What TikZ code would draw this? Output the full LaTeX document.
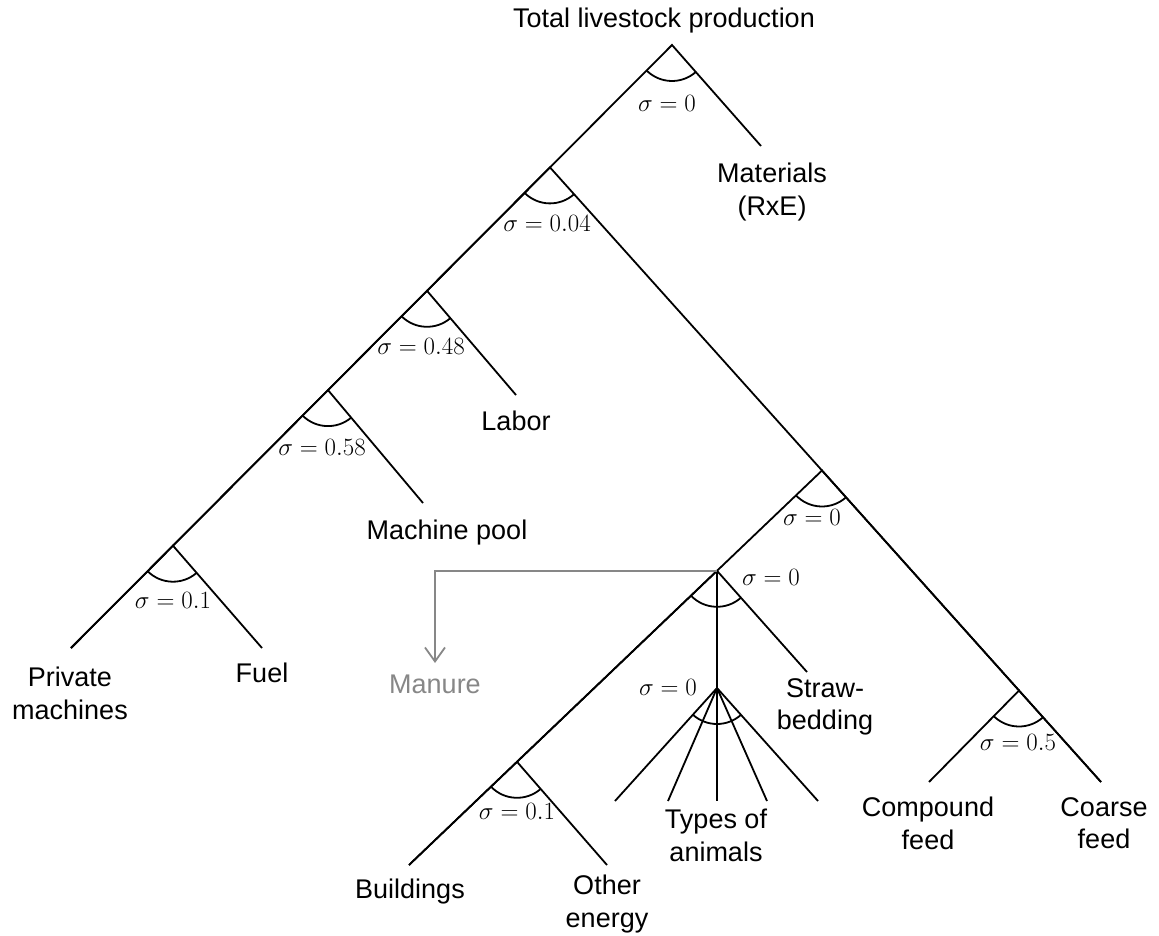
\documentclass[tikz,border=0pt]{standalone}
\usepackage[no-math]{fontspec}
\setmainfont{Liberation Sans}
\usetikzlibrary{calc,arrows.meta}
\definecolor{manuregray}{RGB}{135,135,135}
\newcommand\sigarc[3]{\draw[branch] let \p1=($(#2)-(#1)$), \p2=($(#3)-(#1)$), \n1={atan2(\y1,\x1)}, \n2={atan2(\y2,\x2)} in ($(#1)+(\n1:36pt)$) arc[start angle=\n1, end angle=\n2, radius=36pt];}
\begin{document}
\begin{tikzpicture}[x=1pt,y=-1pt,
  branch/.style={line width=1.8pt, black},
  lbl/.style={font=\fontsize{27}{32.5}\selectfont, align=center, inner sep=0pt, anchor=north},
  sig/.style={font=\fontsize{23.5}{28}\selectfont, inner sep=0pt},
  manureline/.style={line width=1.8pt, manuregray, -{Straight Barb[length=14pt,width=20pt,line width=1.8pt]}}]
\useasboundingbox (0,0) rectangle (1159,936);
\fill[white] (0,0) rectangle (1159,936);
% nodes (junctions) and free ends
\coordinate (A1) at (672,45);
\coordinate (A2) at (550,167.4);
\coordinate (A3) at (427,290.8);
\coordinate (A4) at (328,390.1);
\coordinate (A5) at (173,545.7);
\coordinate (ePM) at (71,648);
\coordinate (eFuel) at (262,648);
\coordinate (eMat) at (761,146);
\coordinate (eLab) at (516,395);
\coordinate (eMach) at (423,503);
\coordinate (B1) at (822,470.5);
\coordinate (B2) at (1019,690.5);
\coordinate (eCF) at (1101,782);
\coordinate (eCP) at (929,782);
\coordinate (J) at (717,570.8);
\coordinate (C1) at (517,761.8);
\coordinate (eBld) at (409,865);
\coordinate (eOE) at (607,865);
\coordinate (eStraw) at (807,672);
\coordinate (F) at (717,688);
\coordinate (f1) at (615,801);
\coordinate (f2) at (668,801);
\coordinate (f3) at (717,801);
\coordinate (f4) at (767,801);
\coordinate (f5) at (818,801);
\coordinate (mCorner) at (435,570.8);
\coordinate (mTip) at (435,663);
% branches
\draw[branch] (ePM) -- (A5) -- (A4) -- (A3) -- (A2) -- (A1) -- (eMat);
\draw[branch] (A3) -- (A2) -- (B1) -- (B2) -- (eCF);
\draw[branch] (A4) -- (A3) -- (eLab);
\draw[branch] (A5) -- (A4) -- (eMach);
\draw[branch] (ePM) -- (A5) -- (eFuel);
\draw[branch] (eBld) -- (C1) -- (J) -- (B1) -- (B2);
\draw[branch] (eBld) -- (C1) -- (eOE);
\draw[branch] (eCP) -- (B2) -- (eCF);
\draw[branch] (C1) -- (J) -- (eStraw);
\draw[branch] (J) -- (F) -- (f3);
\foreach \f in {f1,f2,f4,f5} \draw[branch] (F) -- (\f);
% arcs
\sigarc{A1}{A2}{eMat}
\sigarc{A2}{A3}{B1}
\sigarc{A3}{A4}{eLab}
\sigarc{A4}{A5}{eMach}
\sigarc{A5}{ePM}{eFuel}
\sigarc{B1}{J}{B2}
\sigarc{B2}{eCP}{eCF}
\sigarc{J}{C1}{eStraw}
\sigarc{C1}{eBld}{eOE}
\sigarc{F}{f1}{f5}
% manure
\draw[manureline] (J) -- (mCorner) -- (mTip);
% sigma labels
\node[sig] (s1) at (667,103) {$\sigma = 0$};
\node[sig] (s2) at (547,223) {$\sigma = 0.04$};
\node[sig] (s3) at (421,346) {$\sigma = 0.48$};
\node[sig] (s4) at (322,447) {$\sigma = 0.58$};
\node[sig] (s5) at (173,600) {$\sigma = 0.1$};
\node[sig] (s6) at (812,517) {$\sigma = 0$};
\node[sig] (s7) at (771,577) {$\sigma = 0$};
\node[sig] (s8) at (668,687) {$\sigma = 0$};
\node[sig] (s9) at (1018,742) {$\sigma = 0.5$};
\node[sig] (s10) at (517,811) {$\sigma = 0.1$};
% text labels
\node[lbl] (tTop) at (664,8) {Total livestock production};
\node[lbl] (tMat) at (772,163) {Materials\\(RxE)};
\node[lbl] (tLab) at (516,411) {Labor};
\node[lbl] (tMach) at (447,520) {Machine pool};
\node[lbl] (tPM) at (70,667) {Private\\machines};
\node[lbl] (tFuel) at (262,663) {Fuel};
\node[lbl, text=manuregray] (tMan) at (435,675) {Manure};
\node[lbl] (tBld) at (410,879) {Buildings};
\node[lbl] (tOE) at (607,875) {Other\\energy};
\node[lbl] (tTyp) at (716,809) {Types of\\animals};
\node[lbl] (tStr) at (825,678) {Straw-\\bedding};
\node[lbl] (tCP) at (928,797) {Compound\\feed};
\node[lbl] (tCF) at (1104,797) {Coarse\\feed};
\end{tikzpicture}
\end{document}
